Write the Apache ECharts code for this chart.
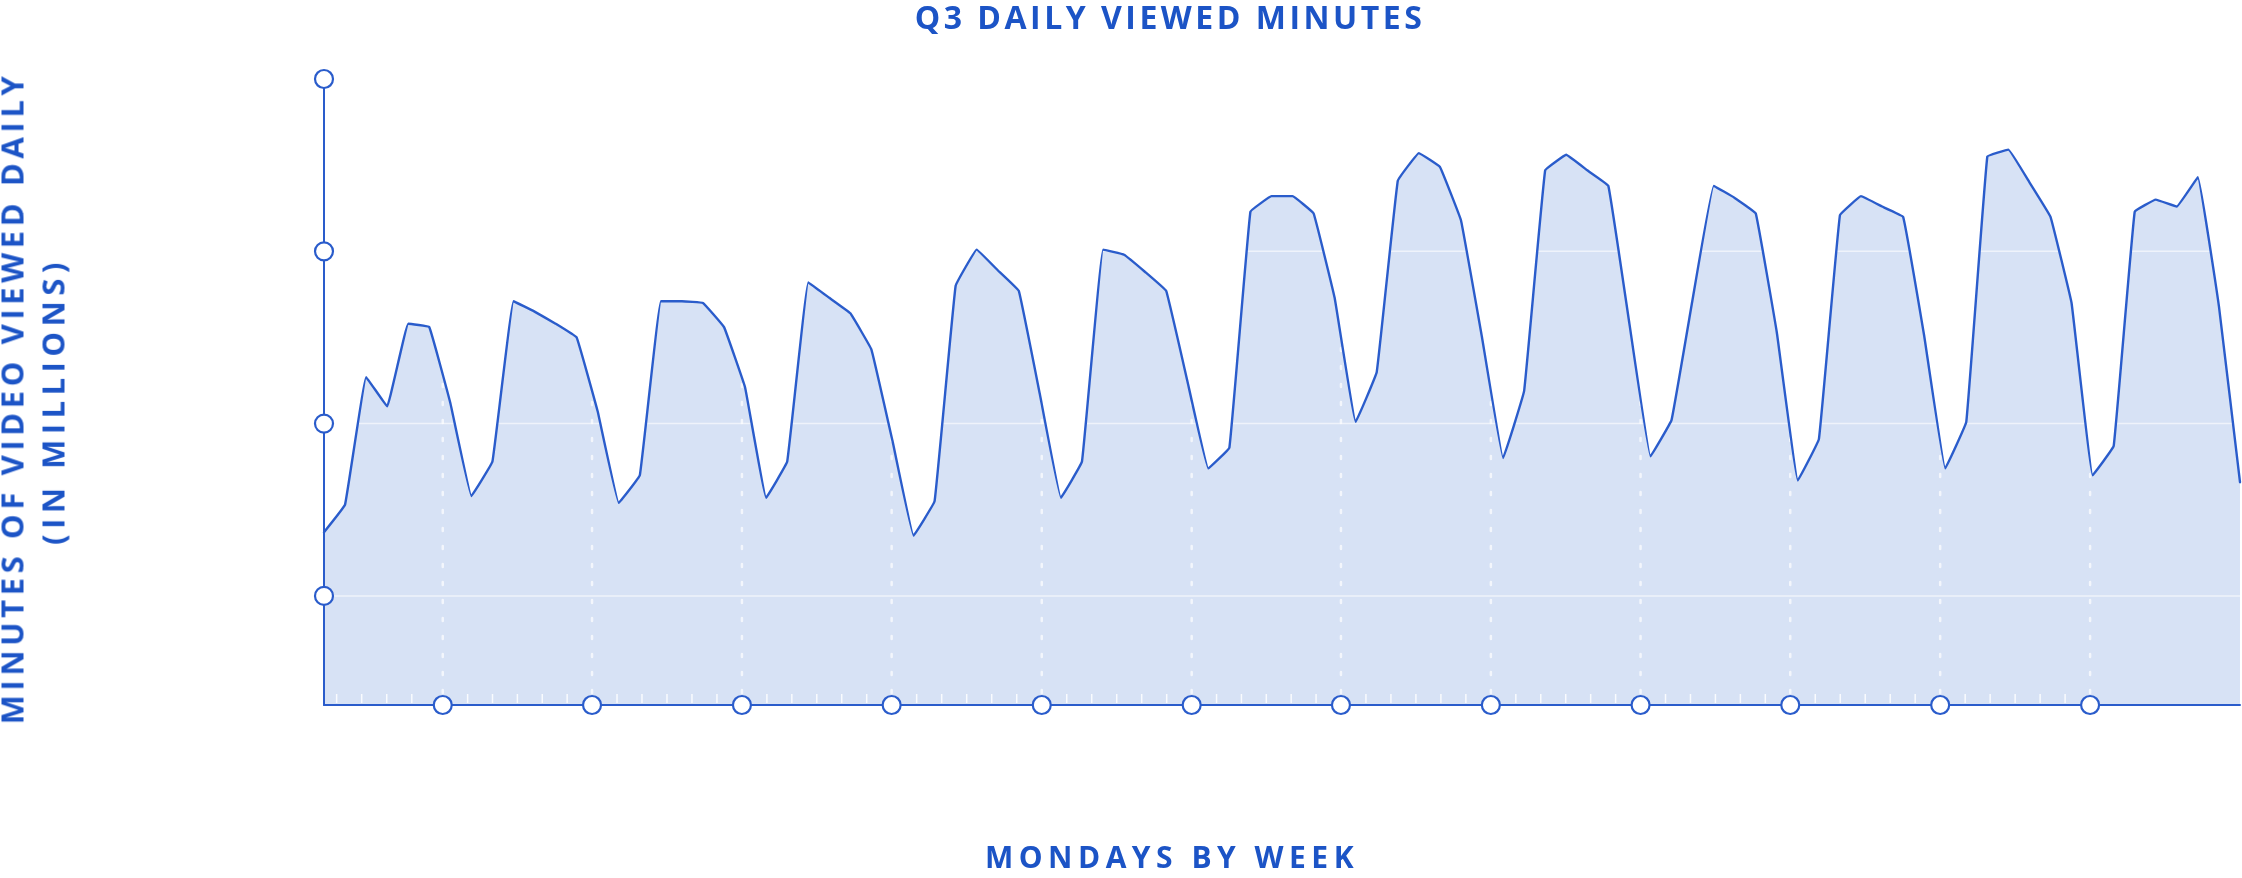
<!DOCTYPE html>
<html>
<head>
<meta charset="utf-8">
<title>Q3 Daily Viewed Minutes</title>
<script src="https://cdn.jsdelivr.net/npm/echarts@6/dist/echarts.min.js"></script>
<style>
  html, body { margin: 0; padding: 0; background: #fff; }
  #wrap { position: relative; width: 2242px; height: 878px; }
  #main { position: absolute; left: 0; top: 0; width: 2242px; height: 878px; }
  .lbl {
    position: absolute;
    font-family: 'Open Sans', 'Noto Sans', sans-serif;
    font-weight: 700;
    color: #1c54c6;
    white-space: nowrap;
    line-height: 1;
    transform: translate(-50%, -50%);
  }
  .rot { transform: translate(-50%, -50%) rotate(-90deg); }
</style>
</head>
<body>
<div id="wrap">
  <div id="main"></div>
  <div class="lbl" style="left:1170px; top:17px; font-size:32px; letter-spacing:3.5px;">Q3 DAILY VIEWED MINUTES</div>
  <div class="lbl" style="left:1172px; top:857px; font-size:30px; letter-spacing:5.5px;">MONDAYS BY WEEK</div>
  <div class="lbl rot" style="left:12px; top:398px; font-size:31px; letter-spacing:4.6px;">MINUTES OF VIDEO VIEWED DAILY</div>
  <div class="lbl rot" style="left:53px; top:401px; font-size:31px; letter-spacing:5.5px;">(IN MILLIONS)</div>
</div>
<script>
// daily viewed minutes (millions), day 0 = Jul 1 ... day 91 = Sep 30
var viewedMinutes = [
  13.7, 15.3, 22.7, 21.0, 25.8, 25.6, 21.2,
  15.8, 17.8, 27.1, 26.5, 25.8, 25.0, 20.7,
  15.4, 17.0, 27.1, 27.1, 27.0, 25.6, 22.1,
  15.7, 17.8, 28.2, 27.3, 26.4, 24.3, 19.0,
  13.5, 15.5, 28.0, 30.1, 28.9, 27.7, 21.7,
  15.7, 17.8, 30.1, 29.8, 28.8, 27.7, 22.5,
  17.4, 18.6, 32.3, 33.2, 33.2, 32.2, 27.3,
  20.1, 23.0, 34.1, 35.7, 34.9, 31.8, 25.0,
  18.0, 21.9, 34.7, 35.6, 34.7, 33.8, 25.8,
  18.1, 20.2, 27.2, 33.8, 33.1, 32.2, 25.3,
  16.7, 19.1, 32.1, 33.2, 32.6, 32.0, 25.1,
  17.4, 20.1, 35.5, 35.9, 34.0, 32.0, 27.0,
  17.0, 18.7, 32.3, 33.0, 32.6, 34.3, 26.8,
  16.6
];

// positions (in days) of the Monday markers on the x axis
var mondayPos = [5.64, 12.73, 19.85, 26.96, 34.09, 41.21, 48.30, 55.42, 62.53, 69.64, 76.76, 83.88];
// small ticks before the first Monday
var leadTicks = [0.60, 1.79, 2.98, 4.17];
// y axis markers and grid lines
var yTicks = [10, 20, 30, 40];
var gridValues = [10, 20, 30];
var yMin = 3.67, yMax = 40;
var lastDay = 91;

var blue = '#2a5ccb';

// 5 small ticks between each pair of Monday markers
var minorTicks = leadTicks.slice();
for (var i = 0; i < mondayPos.length - 1; i++) {
  var step = (mondayPos[i + 1] - mondayPos[i]) / 6;
  for (var j = 1; j < 6; j++) minorTicks.push(mondayPos[i] + step * j);
}

var lineData = viewedMinutes.map(function (v, i) { return [i, v]; });

function hGrid(params, api) {
  var a = api.coord([0, api.value(1)]);
  var b = api.coord([lastDay, api.value(1)]);
  return {
    type: 'line',
    shape: { x1: a[0], y1: a[1], x2: b[0], y2: b[1] },
    style: { stroke: 'rgba(255,255,255,0.6)', lineWidth: 1.5 }
  };
}

function vGrid(params, api) {
  var a = api.coord([api.value(0), yMin]);
  var b = api.coord([api.value(0), yMax]);
  return {
    type: 'line',
    shape: { x1: a[0], y1: a[1] - 12, x2: b[0], y2: b[1] },
    style: { stroke: 'rgba(255,255,255,0.7)', lineWidth: 2.5, lineDash: [3, 15], lineCap: 'round' }
  };
}

function smallTick(params, api) {
  var a = api.coord([api.value(0), yMin]);
  return {
    type: 'line',
    shape: { x1: a[0], y1: a[1] - 2, x2: a[0], y2: a[1] - 11 },
    style: { stroke: 'rgba(255,255,255,0.85)', lineWidth: 1.5 }
  };
}

var myChart = echarts.init(document.getElementById('main'));
myChart.setOption({
  animation: false,
  grid: { left: 324, right: 2, top: 79, bottom: 173 },
  xAxis: {
    type: 'value',
    min: 0,
    max: lastDay,
    z: 4,
    axisLine: { show: true, onZero: false, lineStyle: { color: blue, width: 2 } },
    axisTick: { show: false },
    axisLabel: { show: false },
    splitLine: { show: false }
  },
  yAxis: {
    type: 'value',
    min: yMin,
    max: yMax,
    z: 4,
    axisLine: { show: true, lineStyle: { color: blue, width: 2 } },
    axisTick: { show: false },
    axisLabel: { show: false },
    splitLine: { show: false }
  },
  series: [
    {
      name: 'area',
      type: 'line',
      data: lineData,
      smooth: 0.06,
      symbol: 'none',
      lineStyle: { width: 0 },
      areaStyle: { color: '#d7e2f5', opacity: 1, origin: 'start' },
      silent: true,
      z: 1
    },
    { type: 'custom', renderItem: hGrid, data: gridValues.map(function (v) { return [0, v]; }), silent: true, z: 2 },
    { type: 'custom', renderItem: vGrid, data: mondayPos.map(function (x) { return [x, yMin]; }), silent: true, z: 2 },
    { type: 'custom', renderItem: smallTick, data: minorTicks.map(function (x) { return [x, yMin]; }), silent: true, z: 2 },
    {
      name: 'viewed minutes',
      type: 'line',
      data: lineData,
      smooth: 0.06,
      symbol: 'none',
      lineStyle: { color: blue, width: 2.4, join: 'round', cap: 'round' },
      z: 3
    },
    {
      type: 'scatter',
      data: mondayPos.map(function (x) { return [x, yMin]; }),
      symbol: 'circle',
      symbolSize: 18,
      itemStyle: { color: '#fff', borderColor: blue, borderWidth: 2.2, opacity: 1 },
      clip: false,
      silent: true,
      z: 5
    },
    {
      type: 'scatter',
      data: yTicks.map(function (v) { return [0, v]; }),
      symbol: 'circle',
      symbolSize: 18,
      itemStyle: { color: '#fff', borderColor: blue, borderWidth: 2.2, opacity: 1 },
      clip: false,
      silent: true,
      z: 5
    }
  ]
});
</script>
</body>
</html>
